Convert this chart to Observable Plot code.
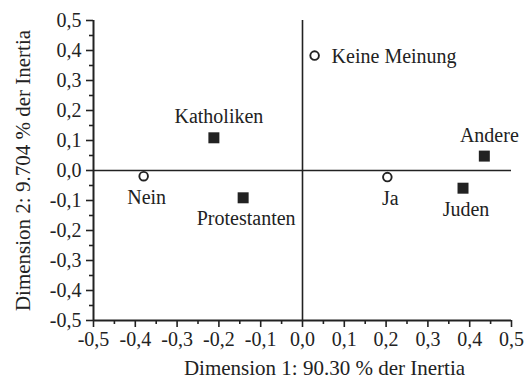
<!DOCTYPE html>
<html><head><meta charset="utf-8">
<script src="https://cdn.jsdelivr.net/npm/d3@7"></script>
<script src="https://cdn.jsdelivr.net/npm/@observablehq/plot@0.6"></script>
<style>body{margin:0;background:#fff}</style>
</head><body><div id="chart"></div>
<script>
const categories = ["Nein", "Keine Meinung", "Ja", "Katholiken", "Protestanten", "Juden", "Andere"];
const dim1 = [-0.380, 0.029, 0.203, -0.212, -0.142, 0.384, 0.435];
const dim2 = [-0.019, 0.383, -0.022, 0.109, -0.091, -0.059, 0.048];
const groups = ["Antwort", "Antwort", "Antwort", "Religion", "Religion", "Religion", "Religion"];
const labelSide = ["below", "right", "below", "above", "below", "below", "above"];
const majorTicks = [-0.5, -0.4, -0.3, -0.2, -0.1, 0, 0.1, 0.2, 0.3, 0.4, 0.5];
const tickLabels = ["-0,5", "-0,4", "-0,3", "-0,2", "-0,1", "0,0", "0,1", "0,2", "0,3", "0,4", "0,5"];
const minorTicks = [-0.45, -0.35, -0.25, -0.15, -0.05, 0.05, 0.15, 0.25, 0.35, 0.45];
const xTitle = "Dimension 1: 90.30 % der Inertia";
const yTitle = "Dimension 2: 9.704 % der Inertia";

const data = categories.map((c, i) => ({name: c, x: dim1[i], y: dim2[i], group: groups[i], side: labelSide[i]}));
const fmt = d => tickLabels[majorTicks.findIndex(t => Math.abs(t - d) < 1e-9)];
const ink = "#222";
const font = "'Liberation Serif', 'Times New Roman', serif";

const chart = Plot.plot({
  width: 529,
  height: 385,
  marginLeft: 93,
  marginRight: 18,
  marginTop: 20,
  marginBottom: 65,
  style: {fontFamily: font, fontSize: "20px", color: ink, background: "#fff"},
  x: {domain: [-0.5, 0.5], label: null},
  y: {domain: [-0.5, 0.5], label: null},
  marks: [
    Plot.axisX(majorTicks, {tickSize: 7, tickPadding: 4, tickFormat: fmt, label: null, fontSize: 20, stroke: ink, strokeWidth: 1.6, strokeOpacity: 1}),
    Plot.axisX(minorTicks, {tickSize: 4, tickFormat: () => "", label: null, stroke: ink, strokeWidth: 1.6, strokeOpacity: 1}),
    Plot.axisY(majorTicks, {tickSize: 7, tickPadding: 5, tickFormat: fmt, label: null, fontSize: 20, stroke: ink, strokeWidth: 1.6, strokeOpacity: 1}),
    Plot.axisY(minorTicks, {tickSize: 4, tickFormat: () => "", label: null, stroke: ink, strokeWidth: 1.6, strokeOpacity: 1}),
    Plot.ruleX([-0.5], {stroke: ink, strokeWidth: 2}),
    Plot.ruleY([-0.5], {stroke: ink, strokeWidth: 2}),
    Plot.ruleX([0], {stroke: ink, strokeWidth: 1.6}),
    Plot.ruleY([0], {stroke: ink, strokeWidth: 1.6}),
    Plot.dot(data.filter(d => d.group === "Religion"), {x: "x", y: "y", symbol: "square", r: 6.2, fill: ink, stroke: "none"}),
    Plot.dot(data.filter(d => d.group === "Antwort"), {x: "x", y: "y", symbol: "circle", r: 4.3, fill: "#fff", stroke: ink, strokeWidth: 1.9}),
    Plot.text(data.filter(d => d.side === "above"), {x: "x", y: "y", text: "name", dx: 5, dy: -21, lineAnchor: "middle", fontSize: 20, fill: ink, letterSpacing: "-0.4px"}),
    Plot.text(data.filter(d => d.side === "below"), {x: "x", y: "y", text: "name", dx: 3, dy: 21, lineAnchor: "middle", fontSize: 20, fill: ink, letterSpacing: "-0.4px"}),
    Plot.text(data.filter(d => d.side === "right"), {x: "x", y: "y", text: "name", dx: 17, dy: 1, textAnchor: "start", lineAnchor: "middle", fontSize: 20, fill: ink, letterSpacing: "-0.4px"}),
    Plot.text([xTitle], {frameAnchor: "bottom", textAnchor: "middle", dx: 22, dy: 48, lineAnchor: "middle", fontSize: 21, fill: ink, letterSpacing: "-0.3px"}),
    Plot.text([yTitle], {frameAnchor: "left", textAnchor: "middle", dx: -70, rotate: -90, lineAnchor: "middle", fontSize: 21, fill: ink, letterSpacing: "-0.3px"})
  ]
});
document.getElementById("chart").appendChild(chart);
</script>
</body></html>
